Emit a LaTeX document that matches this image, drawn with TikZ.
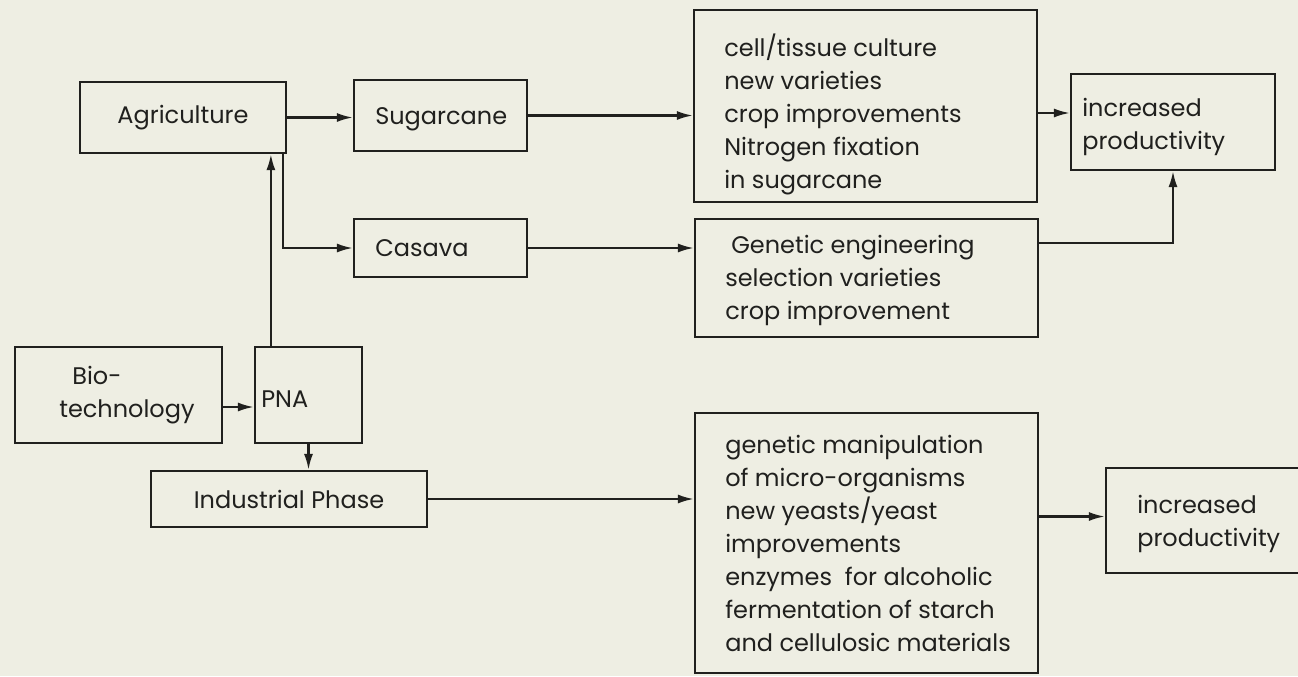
\documentclass[tikz,border=0pt]{standalone}
\usepackage{fontspec}
\setmainfont{Poppins}
\usetikzlibrary{arrows.meta,calc}
\definecolor{paper}{RGB}{238,238,227}
\definecolor{ink}{RGB}{32,32,30}
\begin{document}
\begin{tikzpicture}[x=0.5pt,y=-0.5pt,
 box/.style={draw=ink, line width=1.1pt, inner sep=0pt, text=ink, font=\fontsize{12}{16.5}\selectfont},
 txt/.style={inner sep=0pt, align=left, text=ink, font=\fontsize{12}{16.5}\selectfont},
 arr/.style={draw=ink, line width=1.1pt, -{Latex[length=8pt,width=4.5pt]}}]
\useasboundingbox (0,0) rectangle (1298,676);
\fill[paper] (0,0) rectangle (1298,676);
\begin{scope}
\clip (0,0) rectangle (1298,676);
\node[box, minimum width=103pt, minimum height=35.5pt] (agri) at (183,117.5) {Agriculture};
\node[box, minimum width=86.5pt, minimum height=35.5pt] (sugar) at (440.5,115.5) {};
\node[txt, anchor=west] (sugart) at ([xshift=11pt,yshift=-2pt]sugar.west) {Sugarcane};
\node[box, minimum width=86.5pt, minimum height=29pt] (casava) at (440.5,248) {};
\node[txt, anchor=west] (casavat) at ([xshift=11pt]casava.west) {Casava};
\node[box, minimum width=171.5pt, minimum height=96pt] (t1) at (865.5,106) {};
\node[txt, anchor=west] (t1t) at ([xshift=15.5pt,yshift=-4pt]t1.west) {cell/tissue culture\\new varieties\\crop improvements\\Nitrogen fixation\\in sugarcane};
\node[box, minimum width=171.5pt, minimum height=59pt] (t2) at (866.5,278) {};
\node[txt, anchor=west] (t2t) at ([xshift=15.5pt,yshift=-1pt]t2.west) {\hspace*{3pt}Genetic engineering\\selection varieties\\crop improvement};
\node[box, minimum width=102pt, minimum height=48pt] (inc1) at (1173,122) {};
\node[txt, anchor=west] (inc1t) at ([xshift=6pt,yshift=-2.5pt]inc1.west) {increased\\productivity};
\node[box, minimum width=103.5pt, minimum height=48pt] (bio) at (118.5,395) {};
\node[txt, anchor=west] (biot) at ([xshift=22.5pt]bio.west) {\hspace*{6.5pt}Bio-\\technology};
\node[box, minimum width=53.5pt, minimum height=48pt] (pna) at (308.5,395) {};
\node[txt, anchor=west] (pnat) at ([xshift=3.5pt,yshift=-2pt]pna.west) {PNA};
\node[box, minimum width=138pt, minimum height=28pt] (ind) at (289,499) {Industrial Phase};
\node[box, minimum width=171.5pt, minimum height=130pt] (b1) at (866.5,543) {};
\node[txt, anchor=west] (b1t) at ([xshift=15.5pt]b1.west) {genetic manipulation\\of micro-organisms\\new yeasts/yeast\\improvements\\enzymes\ \ for alcoholic\\fermentation of starch\\and cellulosic materials};
\node[box, minimum width=102pt, minimum height=52.5pt] (inc2) at (1208,520.5) {};
\node[txt, anchor=west] (inc2t) at ([xshift=16pt,yshift=-1.75pt]inc2.west) {increased\\productivity};
\draw[arr] (agri.east) -- (agri.east -| sugar.west);
\draw[arr] (sugar.east) -- (sugar.east -| t1.west);
\coordinate (t1o) at ($(t1.east |- inc1.west)+(0,-9)$);
\draw[arr] (t1o) -- (t1o -| inc1.west);
\draw[arr] (casava.east) -- (casava.east -| t2.west);
\draw[arr] ($(t2.east)+(0,-35)$) -| (inc1.south);
\draw[arr] ($(agri.south east)+(-4,0)$) |- (casava.west);
\coordinate (pup) at ($(pna.north west)+(17,0)$);
\draw[arr] (pup) -- (pup |- agri.south);
\coordinate (bo) at ($(bio.east)+(0,12)$);
\draw[arr] (bo) -- (bo -| pna.west);
\draw[arr] (pna.south) -- (pna.south |- ind.north);
\draw[arr] (ind.east) -- (ind.east -| b1.west);
\coordinate (bo2) at ($(b1.east |- inc2.west)+(0,-4)$);
\draw[arr] (bo2) -- (bo2 -| inc2.west);
\end{scope}
\end{tikzpicture}
\end{document}
